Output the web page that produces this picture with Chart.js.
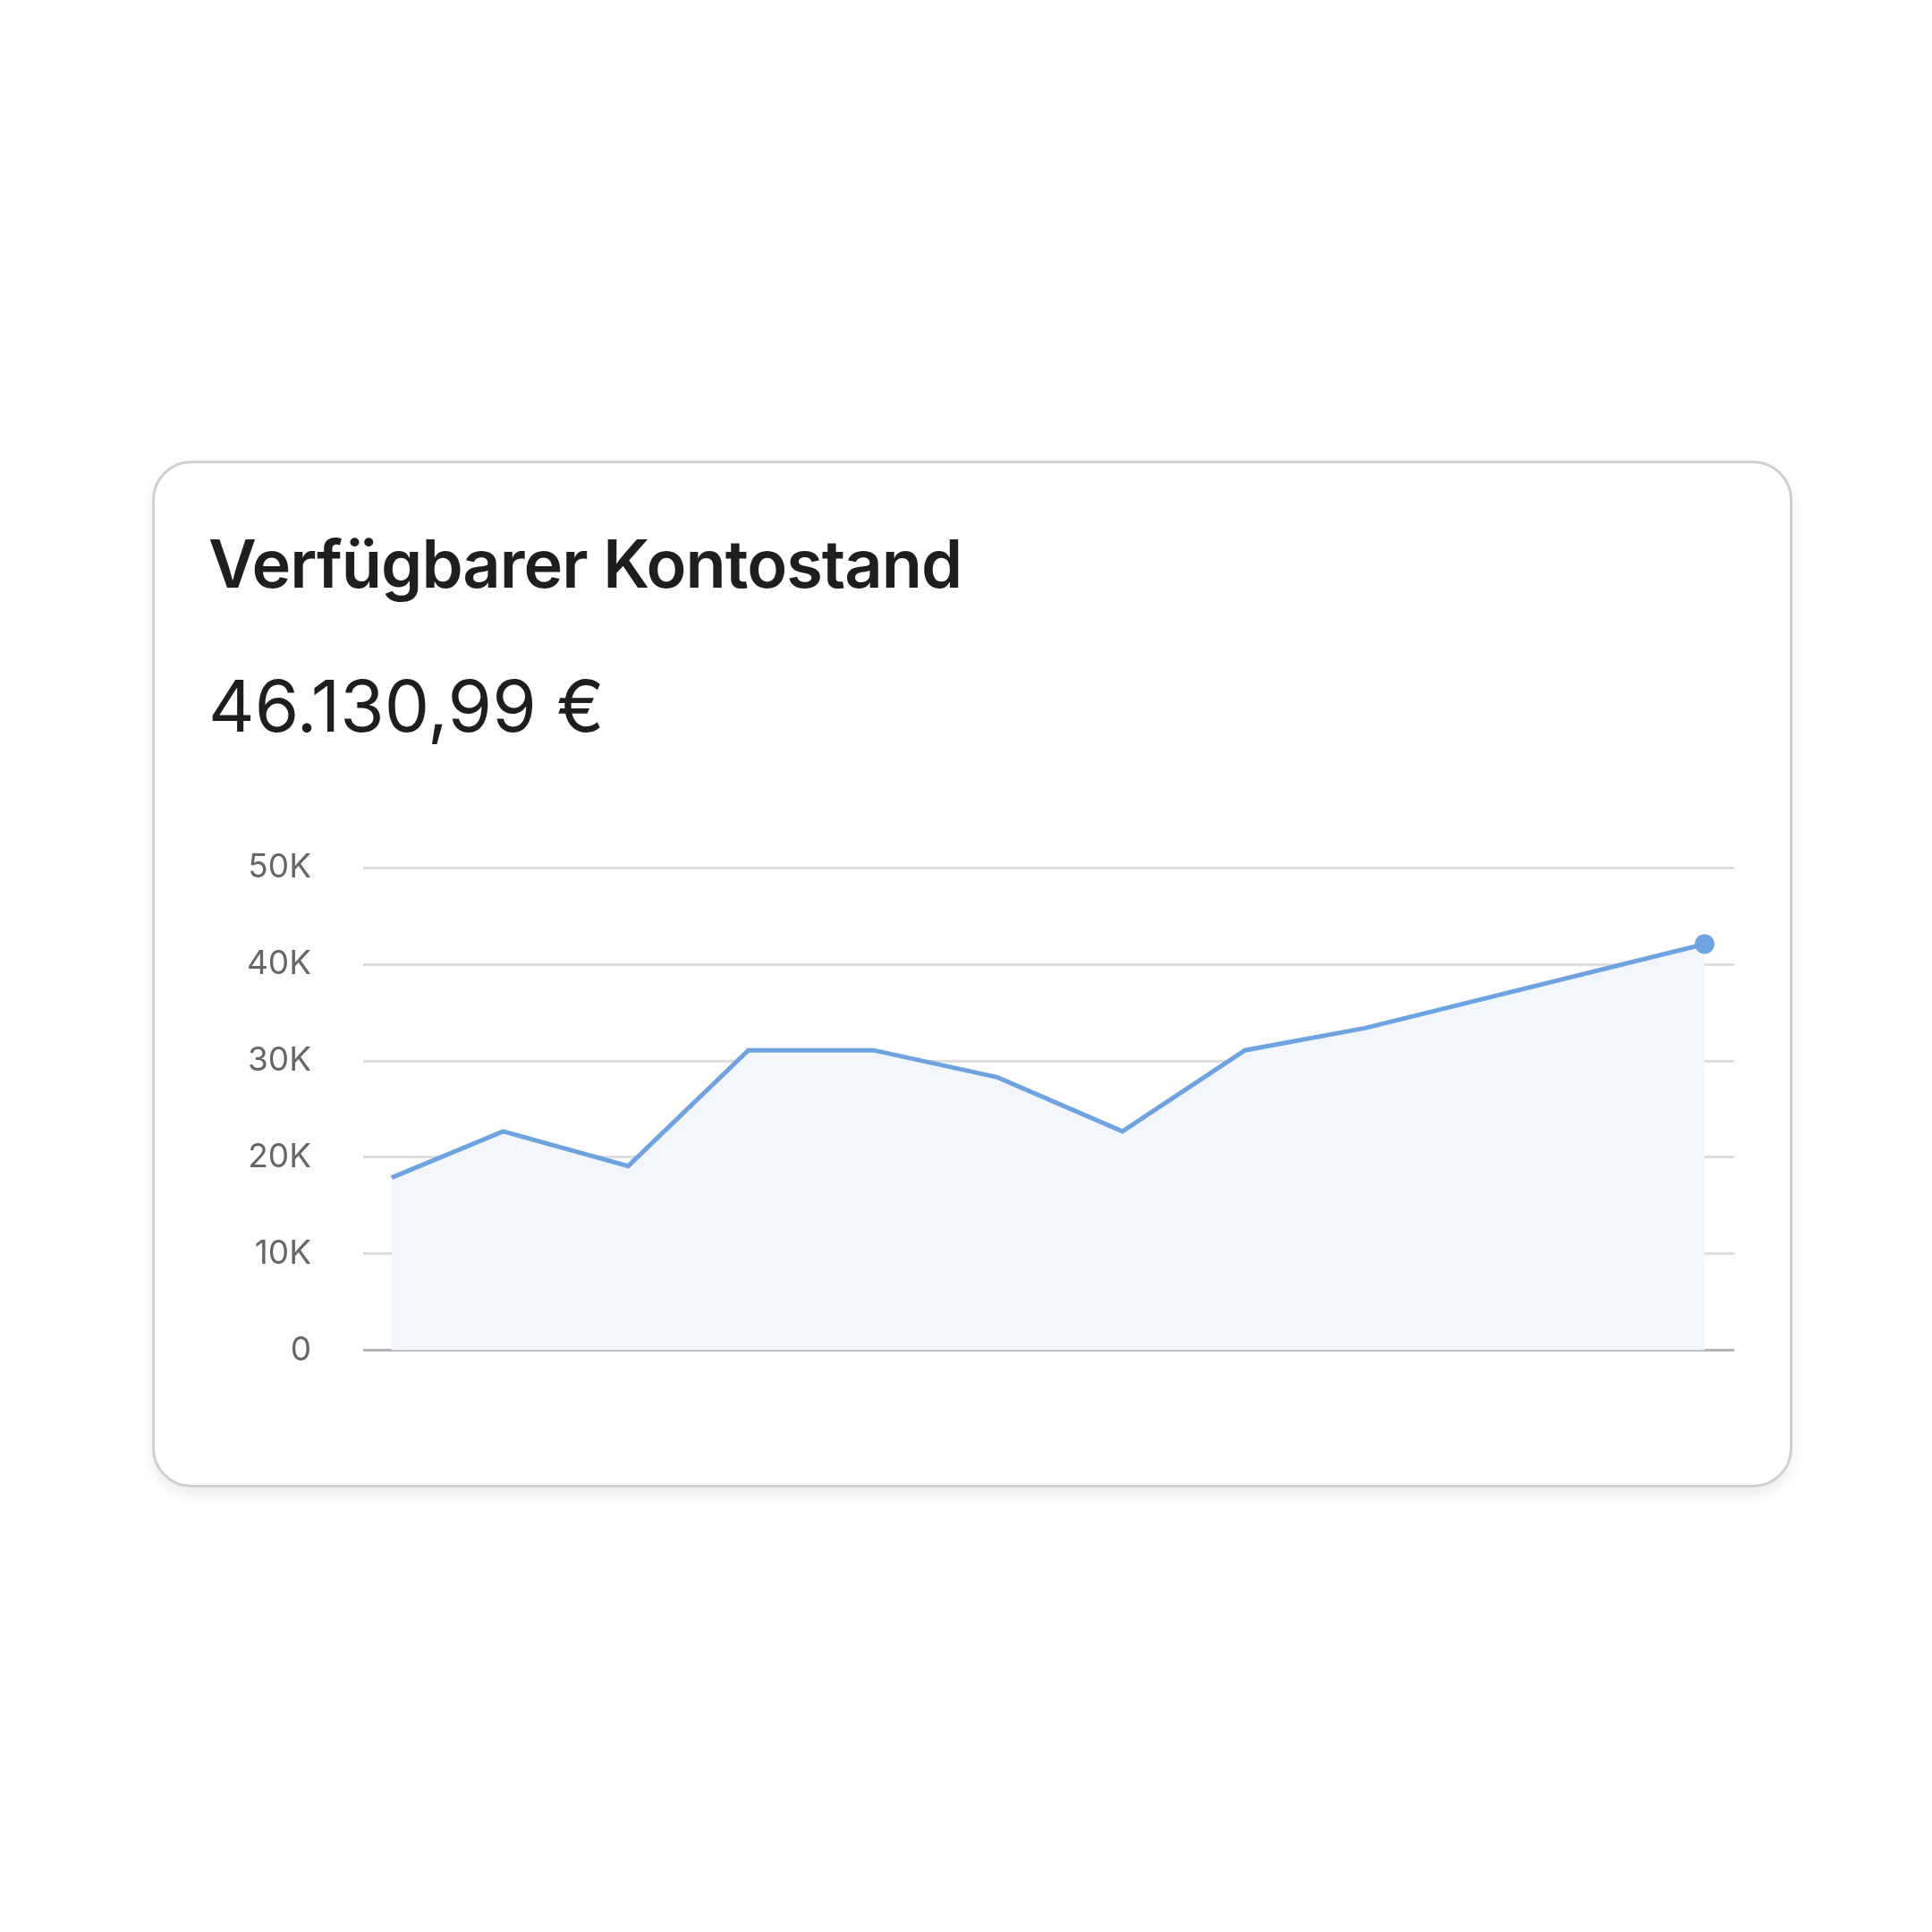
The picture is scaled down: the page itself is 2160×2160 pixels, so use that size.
<!DOCTYPE html>
<html><head><meta charset="utf-8">
<script src="https://cdn.jsdelivr.net/npm/chart.js@4"></script>
<style>
body{margin:0;width:2160px;height:2160px;background:#fff;font-family:Inter,sans-serif;position:relative}
.card{position:absolute;left:170px;top:515px;width:1828px;height:1142px;border:3px solid #cfcfcf;border-radius:44px;box-shadow:0 8px 16px rgba(0,0,0,0.08);background:#fff}
.title{position:absolute;left:233px;top:585px;font-size:74px;font-weight:600;color:#1e1e1e;letter-spacing:-1px}
.value{position:absolute;left:233px;top:740px;font-size:80px;font-weight:400;color:#1e1e1e}
.wrap{position:absolute;left:250px;top:890px;width:1710px;height:700px}
</style></head><body>
<div class="card"></div>
<div class="title">Verfügbarer Kontostand</div>
<div class="value">46.130,99 €</div>
<div class="wrap"><canvas id="c"></canvas></div>
<script>
const xPos=[0,0.9,1.91,2.88,3.89,4.89,5.9,6.89,7.86,10.6];
const balance=[17900,22700,19100,31100,31100,28300,22700,31100,33400,42100];
const yTicks=[0,10000,20000,30000,40000,50000];
const tickLabels={0:"0",10000:"10K",20000:"20K",30000:"30K",40000:"40K",50000:"50K"};

new Chart(document.getElementById("c"),{
 type:"line",
 data:{datasets:[{data:xPos.map((x,i)=>({x:x,y:balance[i]})),borderColor:"#6fa3e0",borderWidth:5,
  backgroundColor:"#f3f6fb",fill:"origin",tension:0,
  pointRadius:xPos.map((x,i)=>i===xPos.length-1?11:0),pointBackgroundColor:"#6fa3e0",pointBorderWidth:0}]},
 options:{responsive:true,maintainAspectRatio:false,animation:false,
  layout:{padding:{top:34,bottom:20,right:21}},
  plugins:{legend:{display:false},tooltip:{enabled:false}},
  scales:{
   x:{type:"linear",min:-0.23,max:10.84,display:false},
   y:{min:0,max:50000,afterBuildTicks:a=>{a.ticks=yTicks.map(v=>({value:v}))},
    afterFit:a=>{a.width=156},
    border:{display:false},
    grid:{color:c=>c.tick.value===0?"#b3b3b3":"#dedede",lineWidth:3,drawTicks:false},
    ticks:{padding:58,color:"#666",font:{family:"Inter",size:37},callback:v=>tickLabels[v]}}
  }}
});
</script>
</body></html>
